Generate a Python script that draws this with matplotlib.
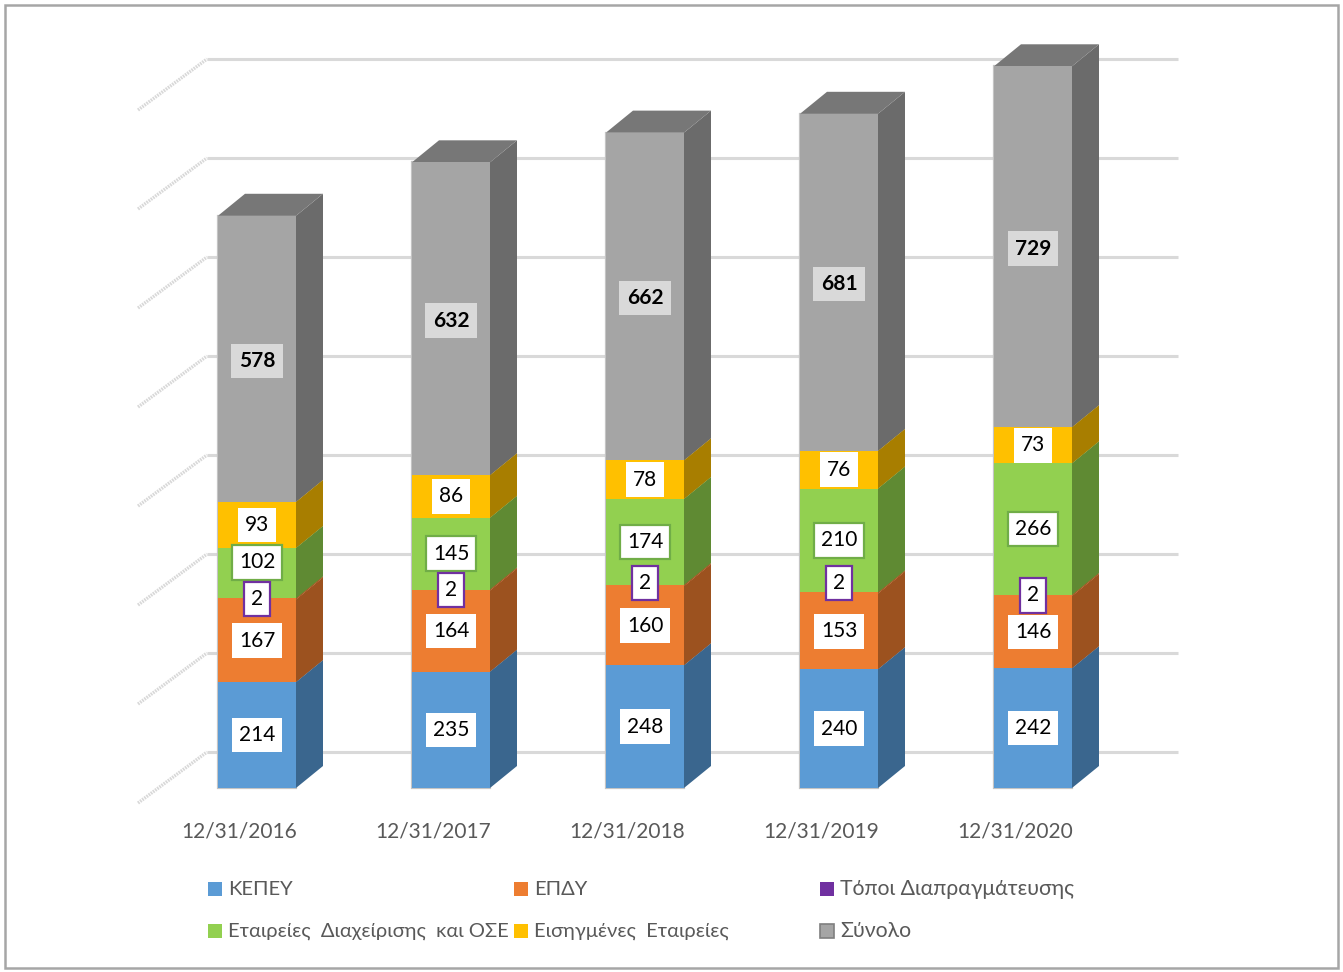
import matplotlib.pyplot as plt
from matplotlib.patches import Polygon, Rectangle

plt.rcParams['font.family'] = ['Lato', 'Open Sans', 'DejaVu Sans']

dates = ["12/31/2016", "12/31/2017", "12/31/2018", "12/31/2019", "12/31/2020"]
series_names = ["ΚΕΠΕΥ", "ΕΠΔΥ", "Τόποι Διαπραγμάτευσης",
                "Εταιρείες  Διαχείρισης  και ΟΣΕ", "Εισηγμένες  Εταιρείες", "Σύνολο"]
kepey = [214, 235, 248, 240, 242]
epdy = [167, 164, 160, 153, 146]
topoi = [2, 2, 2, 2, 2]
etaireies = [102, 145, 174, 210, 266]
eisigmenes = [93, 86, 78, 76, 73]
synolo = [578, 632, 662, 681, 729]
grid_values = [0, 200, 400, 600, 800, 1000, 1200, 1400]

legend_colors = ["#5B9BD5", "#ED7D31", "#7030A0", "#92D050", "#FFC000", "#A5A5A5"]
# the 1px purple slice does not show in the bars, it blends into the orange
front_colors = ["#5B9BD5", "#ED7D31", "#ED7D31", "#92D050", "#FFC000", "#A5A5A5"]
side_colors = ["#3A668E", "#9C521F", "#9C521F", "#5F8A33", "#A87E00", "#6B6B6B"]
top_colors = ["#4A7FAF", "#C0652A", "#C0652A", "#77A942", "#D09E00", "#777777"]

W, H = 1343, 972
PX_X = 194.0      # pixels per category
PX_Y = 0.495      # pixels per unit
BASE_X, BASE_Y = 257, 788

fig = plt.figure(figsize=(W / 100, H / 100), dpi=100)
ax = fig.add_axes([0, 0, 1, 1])
ax.set_xlim(-BASE_X / PX_X, (W - BASE_X) / PX_X)
ax.set_ylim(-(H - BASE_Y) / PX_Y, BASE_Y / PX_Y)
ax.axis("off")

half = 39 / PX_X
depth_x = 27 / PX_X
depth_y = 22 / PX_Y

# back wall and floor edge
wall_x, wall_dy = -50 / PX_X, 36 / PX_Y
front_x, front_dy = -119 / PX_X, -15 / PX_Y
for g in grid_values:
    ax.plot([wall_x, 4 + 145 / PX_X], [g + wall_dy, g + wall_dy], color="#D9D9D9", lw=2.2,
            solid_capstyle="butt", zorder=1)
    ax.plot([front_x, wall_x], [g + front_dy, g + wall_dy], color="#D8D8D8", lw=2.4,
            ls=(0, (0.5, 0.3)), zorder=1)

#BARS
all_series = [kepey, epdy, topoi, etaireies, eisigmenes, synolo]
for i in range(len(dates)):
    bottom = 0
    total = sum(vals[i] for vals in all_series)
    # soft outline round the whole column
    ax.add_patch(Rectangle((i - half, 0), 2 * half, total, facecolor="none",
                           edgecolor="#C4C4C4", linewidth=1.6, zorder=2))
    for s, vals in enumerate(all_series):
        top = bottom + vals[i]
        x0, x1 = i - half, i + half
        ax.add_patch(Polygon([(x1, bottom), (x1 + depth_x, bottom + depth_y),
                              (x1 + depth_x, top + depth_y), (x1, top)],
                             facecolor=side_colors[s], edgecolor="none", zorder=3))
        ax.add_patch(Polygon([(x0, top), (x0 + depth_x, top + depth_y),
                              (x1 + depth_x, top + depth_y), (x1, top)],
                             facecolor=top_colors[s], edgecolor="none", zorder=3))
        ax.add_patch(Rectangle((x0, bottom), x1 - x0, top - bottom,
                               facecolor=front_colors[s], edgecolor="none", zorder=4))
        bottom = top

#LABELS
label_shift = {(3, 0): 22, (2, 2): 5, (2, 3): 20,
               (5, 0): -4, (5, 1): -4, (5, 2): -3, (5, 3): -3, (5, 4): -4}
for i in range(len(dates)):
    bottom = 0
    for s, vals in enumerate(all_series):
        mid = bottom + vals[i] / 2 + label_shift.get((s, i), 0)
        bottom += vals[i]
        edge = "none"
        face = "white"
        weight = "normal"
        lw = 0
        if s == 2:
            edge, lw = "#7030A0", 1.6
        elif s == 3:
            edge, lw = "#70AD47", 1.6
        elif s == 5:
            face, weight = "#D9D9D9", "bold"
        ax.text(i, mid, str(vals[i]), ha="center", va="center", fontsize=15, color="black",
                fontweight=weight, zorder=6 + (s == 2),
                bbox=dict(boxstyle="square,pad=0.35", facecolor=face, edgecolor=edge, linewidth=lw))

for i, d in enumerate(dates):
    ax.text(i - 18 / PX_X, -44 / PX_Y, d, ha="center", va="center", fontsize=15, color="#595959")

#LEGEND
legend_x = [208, 514, 820, 208, 514, 820]
legend_y = [889, 889, 889, 931, 931, 931]
legend_size = [14.5, 14.5, 15.3, 14.5, 14.5, 15.3]
legend_edge = ["none", "none", "none", "none", "none", "#7F7F7F"]
for n in range(len(series_names)):
    lx, ly = legend_x[n], legend_y[n]
    fig.add_artist(Rectangle((lx / W, 1 - (ly + 7) / H), 14 / W, 14 / H, facecolor=legend_colors[n],
                             edgecolor=legend_edge[n], linewidth=1.2, transform=fig.transFigure))
    fig.text((lx + 20) / W, 1 - ly / H, series_names[n], ha="left", va="center",
             fontsize=legend_size[n], color="#595959")

#FRAME
fig.add_artist(Rectangle((5 / W, 1 - 968 / H), 1333 / W, 963 / H, facecolor="none",
                         edgecolor="#A6A6A6", linewidth=1.8, transform=fig.transFigure))

plt.savefig("out.png", dpi=100)
